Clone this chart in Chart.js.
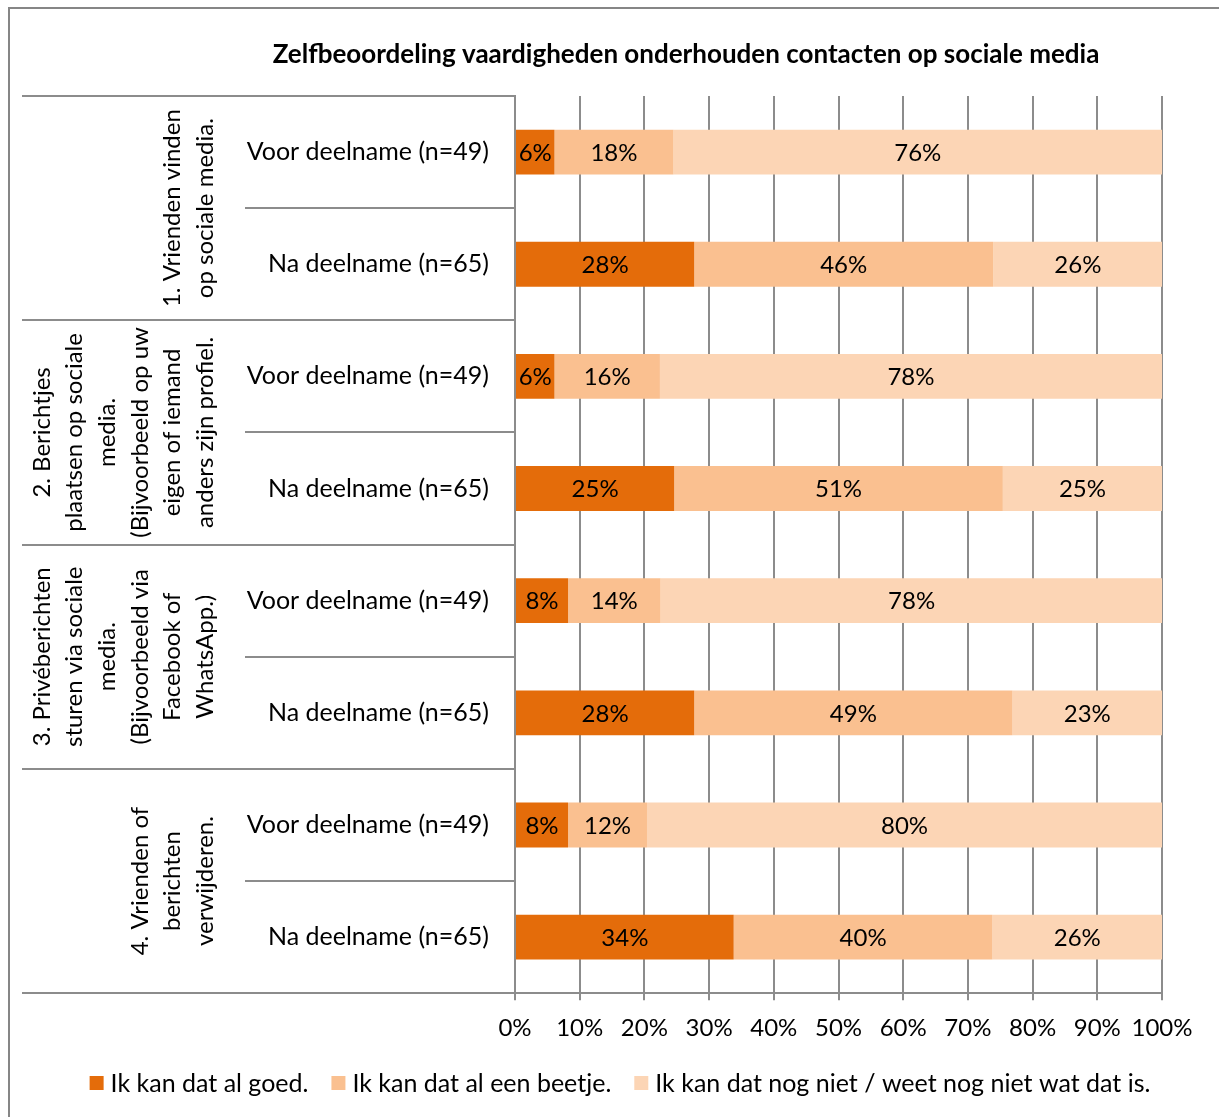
<!DOCTYPE html>
<html>
<head>
<meta charset="utf-8">
<script src="https://cdn.jsdelivr.net/npm/chart.js@4.4.1/dist/chart.umd.min.js"></script>
<style>
    html, body { margin: 0; padding: 0; background: #ffffff; }
    canvas { display: block; }
</style>
</head>
<body>
<canvas id="chart" width="1219" height="1117"></canvas>
<script>
// sub-categories (one bar each), top to bottom
const categories = [
    'Voor deelname (n=49)', 'Na deelname (n=65)',
    'Voor deelname (n=49)', 'Na deelname (n=65)',
    'Voor deelname (n=49)', 'Na deelname (n=65)',
    'Voor deelname (n=49)', 'Na deelname (n=65)'
];

// outer category level, two bars per group, rotated text lines
const groups = [
    ['1. Vrienden vinden', 'op sociale media.'],
    ['2. Berichtjes', 'plaatsen op sociale', 'media.', '(Bijvoorbeeld op uw', 'eigen of iemand', 'anders zijn profiel.'],
    ['3. Privéberichten', 'sturen via sociale', 'media.', '(Bijvoorbeeld via', 'Facebook of', 'WhatsApp.)'],
    ['4. Vrienden of', 'berichten', 'verwijderen.']
];

const seriesNames = [
    'Ik kan dat al goed.',
    'Ik kan dat al een beetje.',
    'Ik kan dat nog niet / weet nog niet wat dat is.'
];

const goed    = [6.1, 27.7, 6.1, 24.6, 8.2, 27.7, 8.2, 33.8];
const beetje  = [18.4, 46.2, 16.3, 50.8, 14.3, 49.2, 12.2, 40.0];
const nogNiet = [75.5, 26.2, 77.6, 24.6, 77.6, 23.1, 79.6, 26.2];

const title = 'Zelfbeoordeling vaardigheden onderhouden contacten op sociale media';
const colors = ['#E46C0A', '#FAC090', '#FCD5B5'];
const lineColor = '#8c8c8c';
const FONT = 'Lato, Carlito, "Open Sans", sans-serif';

Chart.defaults.font.family = FONT;
Chart.defaults.color = '#000000';

const framePlugin = {
    id: 'frame',
    beforeDraw(chart) {
        const { ctx } = chart;
        ctx.save();
        ctx.fillStyle = '#ffffff';
        ctx.fillRect(0, 0, chart.width, chart.height);
        ctx.strokeStyle = '#868686';
        ctx.lineWidth = 2;
        ctx.strokeRect(9, 8, chart.width + 20, chart.height + 20);
        ctx.restore();
    },
    afterDraw(chart) {
        const { ctx, chartArea } = chart;
        const yScale = chart.scales.y;
        const half = (yScale.getPixelForValue(1) - yScale.getPixelForValue(0)) / 2;

        ctx.save();
        // table lines on the left
        ctx.strokeStyle = lineColor;
        ctx.lineWidth = 2;
        for (let i = 0; i <= categories.length; i++) {
            const y = Math.round(yScale.getPixelForValue(i) - half);
            const x0 = i % 2 === 0 ? 22 : 245;
            ctx.beginPath();
            ctx.moveTo(x0, y);
            ctx.lineTo(chartArea.left, y);
            ctx.stroke();
        }

        // rotated group labels
        ctx.fillStyle = '#000000';
        ctx.font = '24px ' + FONT;
        ctx.textAlign = 'center';
        ctx.textBaseline = 'middle';
        groups.forEach((lines, g) => {
            const yc = (yScale.getPixelForValue(g * 2) + yScale.getPixelForValue(g * 2 + 1)) / 2;
            const lastX = 205;
            const step = 32.6;
            lines.forEach((line, k) => {
                const x = lastX - (lines.length - 1 - k) * step;
                ctx.save();
                ctx.translate(x, yc);
                ctx.rotate(-Math.PI / 2);
                ctx.fillText(line, 0, 0);
                ctx.restore();
            });
        });

        // title
        ctx.font = 'bold 26px ' + FONT;
        ctx.fillText(title, 686, 55);

        // value labels centered on each segment
        ctx.font = '24px ' + FONT;
        chart.data.datasets.forEach((ds, di) => {
            const meta = chart.getDatasetMeta(di);
            meta.data.forEach((bar, i) => {
                const v = ds.data[i];
                const cx = (bar.x + bar.base) / 2;
                ctx.fillText(Math.round(v) + '%', cx, bar.y + 1);
            });
        });

        // legend row: square swatch + text, centred under the chart
        ctx.font = '25px ' + FONT;
        ctx.textAlign = 'left';
        const box = 14, gapText = 7, gapItem = 23;
        const widths = seriesNames.map(s => box + gapText + ctx.measureText(s).width);
        const total = widths.reduce((a, b) => a + b, 0) + gapItem * (widths.length - 1);
        let lx = 620 - total / 2;
        const ly = 1083;
        chart.data.datasets.forEach((ds, di) => {
            ctx.fillStyle = ds.backgroundColor;
            ctx.fillRect(lx, ly - box / 2, box, box);
            ctx.fillStyle = '#000000';
            ctx.fillText(ds.label, lx + box + gapText, ly + 1);
            lx += widths[di] + gapItem;
        });
        ctx.restore();
    }
};

new Chart(document.getElementById('chart').getContext('2d'), {
    type: 'bar',
    data: {
        labels: categories,
        datasets: [
            { label: seriesNames[0], data: goed, backgroundColor: colors[0] },
            { label: seriesNames[1], data: beetje, backgroundColor: colors[1] },
            { label: seriesNames[2], data: nogNiet, backgroundColor: colors[2] }
        ]
    },
    options: {
        indexAxis: 'y',
        responsive: false,
        animation: false,
        datasets: {
            bar: { barPercentage: 0.4, categoryPercentage: 1, borderWidth: 0 }
        },
        layout: { padding: { top: 96, right: 57, bottom: 60, left: 0 } },
        scales: {
            x: {
                stacked: true,
                min: 0,
                max: 100,
                ticks: {
                    stepSize: 10,
                    padding: 14,
                    maxRotation: 0,
                    minRotation: 0,
                    autoSkip: false,
                    color: '#000000',
                    font: { size: 24 },
                    callback: v => v + '%'
                },
                grid: { color: lineColor, lineWidth: 2, tickLength: 7 },
                border: { color: lineColor, width: 2 }
            },
            y: {
                stacked: true,
                afterFit(scale) { scale.width = 515; },
                ticks: { padding: 26, color: '#000000', font: { size: 25 } },
                grid: { display: false, drawTicks: false },
                border: { display: true, color: lineColor, width: 2 }
            }
        },
        plugins: {
            title: { display: false },
            tooltip: { enabled: false },
            legend: { display: false }
        }
    },
    plugins: [framePlugin]
});
</script>
</body>
</html>
